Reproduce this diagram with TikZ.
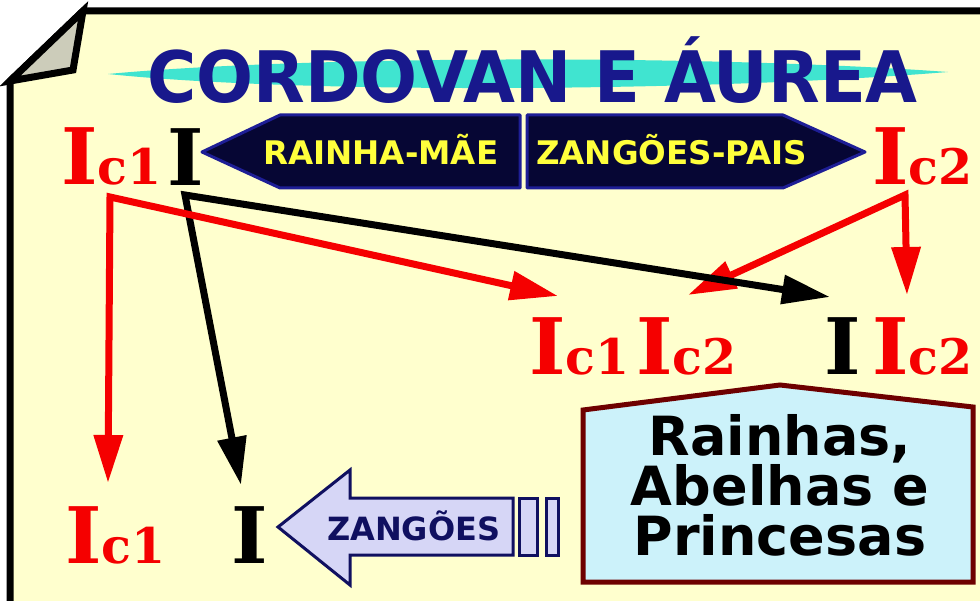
\documentclass[tikz,border=0pt]{standalone}
\usepackage{fontspec}
\usetikzlibrary{arrows.meta, calc}

\newfontfamily\dvsans{DejaVu Sans}
\newfontfamily\dvserif{DejaVu Serif}

\definecolor{papel}{RGB}{255,255,206}
\definecolor{dobra}{RGB}{204,204,186}
\definecolor{titulo}{RGB}{24,24,140}
\definecolor{pincel}{RGB}{64,228,208}
\definecolor{faixa}{RGB}{6,6,52}
\definecolor{faixaborda}{RGB}{30,30,150}
\definecolor{amarelo}{RGB}{255,255,60}
\definecolor{lilas}{RGB}{214,214,246}
\definecolor{marinho}{RGB}{16,16,96}
\definecolor{caixa}{RGB}{204,242,250}
\definecolor{vinho}{RGB}{110,0,0}
\definecolor{vermelho}{RGB}{245,0,0}

% I com indice (c1, c2)
\newcommand{\gen}[1]{{\fontsize{78}{78}\selectfont I}{\fontsize{49}{49}\selectfont #1}}

\begin{document}
\begin{tikzpicture}[x=1pt, y=-1pt, >={Triangle[length=48pt, width=28pt]},
    gene/.style={inner sep=0pt, anchor=base west, font=\dvserif\bfseries},
    seta verm/.style={vermelho, line width=7pt},
    seta preta/.style={black, line width=7pt},
    faixa/.style={fill=faixa, draw=faixaborda, line width=3pt, line join=round},
    texto faixa/.style={inner sep=0pt, anchor=base west, amarelo, font=\dvsans\bfseries\fontsize{32.5}{32.5}\selectfont}]

    \useasboundingbox (0,0) rectangle (980,601);
    \clip (0,0) rectangle (980,601);

    % folha com canto dobrado
    \draw[fill=papel, line width=7pt] (83,11) -- (990,11) -- (990,610) -- (10,610) -- (10,81) -- cycle;
    \draw[fill=dobra, line width=7pt] (83,11) -- (73,70) -- (10,81) -- cycle;

    % pincelada atras do titulo
    \fill[pincel] (108,74) .. controls (300,56) and (700,54) .. (948,72)
        .. controls (700,92) and (300,94) .. (108,74) -- cycle;
    \node[titulo, inner sep=0pt, anchor=base west, font=\dvsans\bfseries\fontsize{71}{71}\selectfont] (titulo) at (147,103)
        {\scalebox{0.945}[1]{CORDOVAN E ÁUREA}};

    % faixas
    \draw[faixa] (202,152) -- (280,115) -- (520,115) -- (520,188) -- (280,188) -- cycle;
    \draw[faixa] (527,115) -- (783,115) -- (865,152) -- (783,188) -- (527,188) -- cycle;
    \node[texto faixa] (mae) at (263,165) {RAINHA-MÃE};
    \node[texto faixa] (pais) at (536,165) {ZANGÕES-PAIS};

    % genes
    \node[gene, vermelho] (ic1a) at (61,185) {\gen{c1}};
    \node[gene] (ia) at (167,186) {\gen{}};
    \node[gene, vermelho] (ic2a) at (872,185) {\gen{c2}};

    \node[gene, vermelho] (ic1b) at (529,375) {\gen{c1}};
    \node[gene, vermelho] (ic2b) at (636,375) {\gen{c2}};
    \node[gene] (ib) at (824,375) {\gen{}};
    \node[gene, vermelho] (ic2c) at (872,375) {\gen{c2}};

    \node[gene, vermelho] (ic1d) at (65,563) {\gen{c1}};
    \node[gene] (id) at (231,563) {\gen{}};

    % setas
    \draw[seta verm, <->] ($(ic2b.base west)+(52,-80)$) -- ($(ic2a.base west)+(33,10)$)
        -- ($(ic2c.base west)+(35,-80)$);
    \draw[seta preta, <->] ($(id.base west)+(10,-78)$) -- ($(ia.base west)+(18,9)$)
        -- ($(ib.base west)+(6,-78)$);
    \draw[seta verm, <->] ($(ic1d.base west)+(43,-80)$) -- ($(ic1a.base west)+(49,12)$)
        -- ($(ic1b.base west)+(29,-79)$);

    % seta dos zangoes
    \draw[fill=lilas, draw=marinho, line width=3pt] (278,527) -- (350,470) -- (350,498) -- (513,498)
        -- (513,555) -- (350,555) -- (350,585) -- cycle;
    \draw[fill=lilas, draw=marinho, line width=3pt] (519,498) rectangle (537,555);
    \draw[fill=lilas, draw=marinho, line width=3pt] (546,498) rectangle (558,555);
    \node[marinho, inner sep=0pt, anchor=base west, font=\dvsans\bfseries\fontsize{32}{32}\selectfont] (zang) at (327,540) {ZANGÕES};

    % caixa das rainhas
    \draw[fill=caixa, draw=vinho, line width=5pt] (583,582) -- (583,410) -- (780,385) -- (973,407)
        -- (973,582) -- cycle;
    \node[align=center, inner sep=0pt, font=\dvsans\bfseries\fontsize{54}{50}\selectfont] (rainhas) at (780,485)
        {Rainhas,\\Abelhas e\\Princesas};

\end{tikzpicture}
\end{document}
